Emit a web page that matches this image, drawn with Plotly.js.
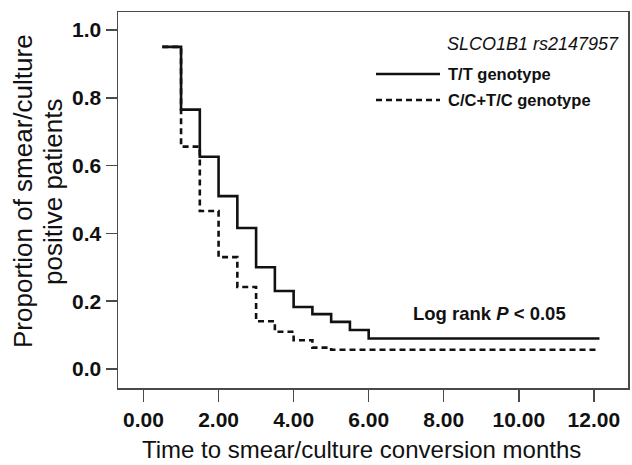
<!DOCTYPE html>
<html>
<head>
<meta charset="utf-8">
<script src="https://cdn.plot.ly/plotly-3.0.1.min.js"></script>
<style>html,body{margin:0;padding:0;background:#fff;}#chart{width:632px;height:465px;}</style>
</head>
<body>
<div id="chart"></div>
<script>
// Kaplan-Meier step data (months, proportion still positive)
const ttTimes = [0.5, 1.0, 1.5, 2.0, 2.5, 3.0, 3.5, 4.0, 4.5, 5.0, 5.5, 6.0, 12.15];
const ttValues = [0.95, 0.765, 0.626, 0.51, 0.416, 0.30, 0.23, 0.183, 0.162, 0.139, 0.115, 0.09, 0.09];
const ccTimes = [0.5, 1.0, 1.5, 2.0, 2.5, 3.0, 3.5, 4.0, 4.5, 5.0, 12.15];
const ccValues = [0.95, 0.656, 0.466, 0.33, 0.242, 0.141, 0.11, 0.085, 0.063, 0.057, 0.057];
const seriesNames = ["T/T genotype", "C/C+T/C genotype"];
const xTickVals = [0, 2, 4, 6, 8, 10, 12];
const xTickText = ["0.00", "2.00", "4.00", "6.00", "8.00", "10.00", "12.00"];
const yTickVals = [0, 0.2, 0.4, 0.6, 0.8, 1.0];
const yTickText = ["0.0", "0.2", "0.4", "0.6", "0.8", "1.0"];
const xTitle = "Time to smear/culture conversion months";
const yTitleLines = ["Proportion of smear/culture", "positive patients"];

const FONT = "Liberation Sans, Arial, sans-serif";
const INK = "#111";
const FRAME = "#4a4a4a";

const traces = [
  {x: ttTimes, y: ttValues, name: seriesNames[0], type: "scatter", mode: "lines",
   line: {shape: "hv", color: INK, width: 2.6}},
  {x: ccTimes, y: ccValues, name: seriesNames[1], type: "scatter", mode: "lines",
   line: {shape: "hv", color: INK, width: 2.6, dash: "6px,4px"}}
];

// paper coords helpers (plot area 118..628 x, 12..388 y)
const px = v => (v - 118) / 510;
const py = v => (388 - v) / 376;

const layout = {
  width: 632, height: 465,
  margin: {l: 118, r: 4, t: 12, b: 77},
  paper_bgcolor: "#fff", plot_bgcolor: "#fff",
  showlegend: false,
  font: {family: FONT, color: INK},
  xaxis: {
    range: [-0.68, 12.91], tickvals: xTickVals, ticktext: xTickText,
    ticks: "outside", ticklen: 12, tickwidth: 1.5, tickcolor: FRAME,
    showline: true, linecolor: FRAME, linewidth: 1.5, mirror: true,
    showgrid: false, zeroline: false,
    tickfont: {family: FONT, size: 21, weight: "bold", color: INK}
  },
  yaxis: {
    range: [-0.056, 1.053], tickvals: yTickVals, ticktext: yTickText,
    ticks: "outside", ticklen: 11, tickwidth: 1.5, tickcolor: FRAME,
    showline: true, linecolor: FRAME, linewidth: 1.5, mirror: true,
    showgrid: false, zeroline: false,
    tickfont: {family: FONT, size: 21, weight: "bold", color: INK}
  },
  shapes: [
    {type: "line", xref: "paper", yref: "paper", x0: px(376), x1: px(440), y0: py(74), y1: py(74),
     line: {color: INK, width: 2.6}},
    {type: "line", xref: "paper", yref: "paper", x0: px(376), x1: px(440), y0: py(100), y1: py(100),
     line: {color: INK, width: 2.6, dash: "6px,4px"}}
  ],
  annotations: [
    {xref: "paper", yref: "paper", x: px(361), y: py(450), xanchor: "center", yanchor: "middle", showarrow: false,
     text: xTitle, font: {family: FONT, size: 24, color: INK}},
    {xref: "paper", yref: "paper", x: px(23), y: py(191), xanchor: "center", yanchor: "middle", showarrow: false,
     textangle: -90, text: yTitleLines[0], font: {family: FONT, size: 26, color: INK}},
    {xref: "paper", yref: "paper", x: px(53), y: py(192), xanchor: "center", yanchor: "middle", showarrow: false,
     textangle: -90, text: yTitleLines[1], font: {family: FONT, size: 26, color: INK}},
    {xref: "paper", yref: "paper", x: px(621), y: py(44), xanchor: "right", yanchor: "middle", showarrow: false,
     text: "<i>SLCO1B1 rs2147957</i>", font: {family: FONT, size: 18, color: INK}},
    {xref: "paper", yref: "paper", x: px(446), y: py(74), xanchor: "left", yanchor: "middle", showarrow: false,
     text: "<b>" + seriesNames[0] + "</b>", font: {family: FONT, size: 16.5, color: INK}},
    {xref: "paper", yref: "paper", x: px(446), y: py(100), xanchor: "left", yanchor: "middle", showarrow: false,
     text: "<b>" + seriesNames[1] + "</b>", font: {family: FONT, size: 16.5, color: INK}},
    {xref: "paper", yref: "paper", x: px(489), y: py(313), xanchor: "center", yanchor: "middle", showarrow: false,
     text: "<b>Log rank <i>P</i> < 0.05</b>", font: {family: FONT, size: 18.5, color: INK}}
  ]
};

Plotly.newPlot("chart", traces, layout, {displayModeBar: false, staticPlot: true});
</script>
</body>
</html>
